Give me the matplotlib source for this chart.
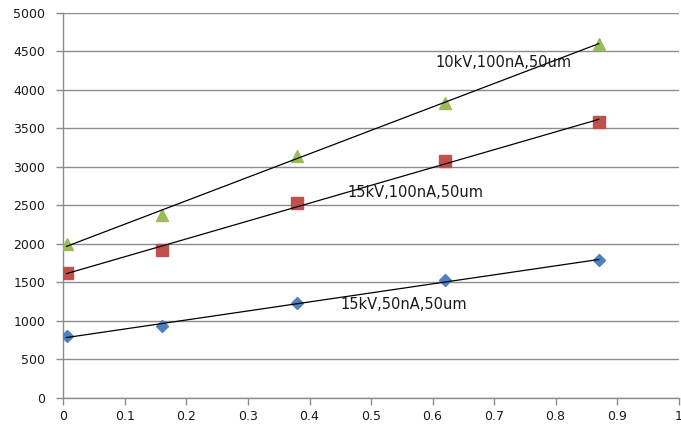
import numpy as np
import matplotlib
matplotlib.use("Agg")
import matplotlib.pyplot as plt

# Measured values for the three beam settings
x_pos = [0.005, 0.16, 0.38, 0.62, 0.87]
y_15kv_50na = [800, 935, 1230, 1525, 1785]
y_15kv_100na = [1620, 1920, 2530, 3070, 3580]
y_10kv_100na = [2000, 2380, 3140, 3830, 4600]

labels = ["15kV,50nA,50um", "15kV,100nA,50um", "10kV,100nA,50um"]
label_pos = [(0.451, 1209), (0.461, 2665), (0.605, 4350)]

x_ticks = [0, 0.1, 0.2, 0.3, 0.4, 0.5, 0.6, 0.7, 0.8, 0.9, 1]
y_ticks = [0, 500, 1000, 1500, 2000, 2500, 3000, 3500, 4000, 4500, 5000]

fig = plt.figure(figsize=(6.81, 4.29), dpi=100)
ax = fig.add_axes([0.0932, 0.0723, 0.9033, 0.8981])

series = [
    (y_15kv_50na, "D", "#4F81BD", 6.5),
    (y_15kv_100na, "s", "#C0504D", 8.5),
    (y_10kv_100na, "^", "#9BBB59", 8.5),
]
x = np.array(x_pos)
for ys, mk, col, ms in series:
    ax.plot(x, ys, linestyle="none", marker=mk, color=col, markersize=ms, zorder=3)
    k, b = np.polyfit(x, ys, 1)
    xs = np.array([x.min(), x.max()])
    ax.plot(xs, k * xs + b, color="black", linewidth=0.9, zorder=4)

for text, (tx, ty) in zip(labels, label_pos):
    ax.text(tx, ty, text, fontsize=10.5, color="#1a1a1a", va="center", ha="left", zorder=5)

ax.set_xlim(0, 1)
ax.set_ylim(0, 5000)
ax.set_xticks(x_ticks)
ax.set_xticklabels(["0", "0.1", "0.2", "0.3", "0.4", "0.5", "0.6", "0.7", "0.8", "0.9", "1"])
ax.set_yticks(y_ticks)
ax.yaxis.grid(True, color="#8c8c8c", linewidth=1.0)
ax.set_axisbelow(True)
for s in ["top", "right"]:
    ax.spines[s].set_visible(False)
for s in ["left", "bottom"]:
    ax.spines[s].set_color("#8c8c8c")
    ax.spines[s].set_linewidth(1.0)
ax.tick_params(axis="both", colors="#8c8c8c", length=5, width=1.0, labelsize=9, labelcolor="#1a1a1a")
ax.tick_params(axis="y", pad=8)
ax.tick_params(axis="x", pad=4)

fig.savefig("out.png", dpi=100)
